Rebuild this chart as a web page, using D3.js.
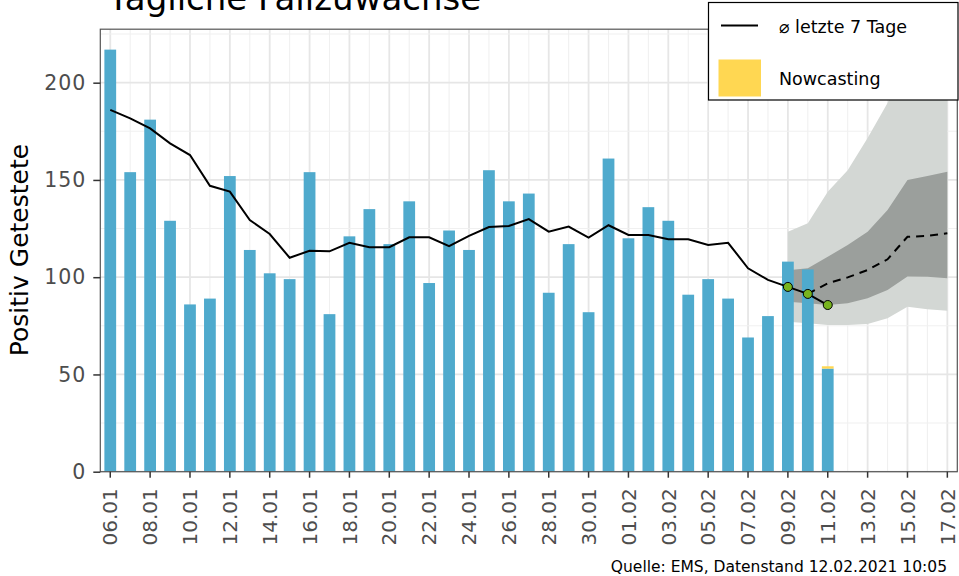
<!DOCTYPE html>
<html>
<head>
<meta charset="utf-8">
<script src="https://cdn.jsdelivr.net/npm/d3@7"></script>
<style>
  body { margin: 0; background: #fff; }
  text { font-family: "DejaVu Sans", sans-serif; }
</style>
</head>
<body>
<div id="chart"></div>
<script>
// days shown on the x axis (06.01 - 17.02)
var days = ["06.01","07.01","08.01","09.01","10.01","11.01","12.01","13.01","14.01","15.01",
  "16.01","17.01","18.01","19.01","20.01","21.01","22.01","23.01","24.01","25.01",
  "26.01","27.01","28.01","29.01","30.01","31.01","01.02","02.02","03.02","04.02",
  "05.02","06.02","07.02","08.02","09.02","10.02","11.02","12.02","13.02","14.02",
  "15.02","16.02","17.02"];
var tickLabels = ["06.01","08.01","10.01","12.01","14.01","16.01","18.01","20.01","22.01","24.01",
  "26.01","28.01","30.01","01.02","03.02","05.02","07.02","09.02","11.02","13.02","15.02","17.02"];
var yTicks = [0, 50, 100, 150, 200];

// daily new positive cases (06.01 - 11.02)
var cases = [217,154,181,129,86,89,152,114,102,99,154,81,121,135,117,139,97,124,114,155,
  139,143,92,117,82,161,120,136,129,91,99,89,69,80,108,104,53];
// nowcasting add-on
var nowcastDays = ["11.02"];
var nowcastValues = [1.2];

// 7 day average (06.01 - 11.02)
var avg7 = [186,181.7,176.5,168.8,162.8,147,144,129.4,122.2,110,113.6,113.3,117.7,115.4,115.4,
  120.5,120.5,116,121.2,125.8,126.3,129.9,123.4,126,120.3,126.7,121.7,121.7,119.5,119.5,
  116.6,117.7,104.6,98.6,95,91.4,85.7];
var markedDays = ["09.02","10.02","11.02"];

// forecast (09.02 - 17.02)
var forecastDays = ["09.02","10.02","11.02","12.02","13.02","14.02","15.02","16.02","17.02"];
var outerLow  = [77.1,76.3,75.4,75.4,75.9,78.9,84.8,83.5,82.8];
var outerHigh = [123.4,127.7,143.9,155,171.5,189.5,215,235,250];
var innerLow  = [87.4,86.6,85.7,86.6,89.2,93.4,100.3,100.2,99.4];
var innerHigh = [103.6,104.6,110.5,116.6,123.4,134.6,150,152,154.2];
var meanDays = ["10.02","11.02","12.02","13.02","14.02","15.02","16.02","17.02"];
var meanValues = [91.4,96.9,99.9,103.7,109.2,120.8,121.2,122.6];

var svgWidth = 959, svgHeight = 576;
var panel = { left: 100.3, right: 957.3, top: 29.2, bottom: 471.7 };

var svg = d3.select("#chart").append("svg")
  .attr("width", svgWidth)
  .attr("height", svgHeight);

var x = d3.scaleBand()
  .domain(days)
  .range([panel.left, panel.right])
  .paddingInner(0.41)
  .paddingOuter(0.205);
var xc = d => x(d) + x.bandwidth() / 2;

var y = d3.scaleLinear()
  .domain([0, 227.5])
  .range([panel.bottom, panel.top]);

svg.append("defs").append("clipPath").attr("id", "clip")
  .append("rect")
  .attr("x", panel.left).attr("y", panel.top)
  .attr("width", panel.right - panel.left)
  .attr("height", panel.bottom - panel.top);

// grid
var grid = svg.append("g");
grid.selectAll(".vgrid")
  .data(days)
  .enter().append("line")
  .attr("x1", d => xc(d)).attr("x2", d => xc(d))
  .attr("y1", panel.top).attr("y2", panel.bottom)
  .attr("stroke", d => tickLabels.indexOf(d) >= 0 ? "#e6e6e6" : "#f0f0f0")
  .attr("stroke-width", d => tickLabels.indexOf(d) >= 0 ? 1.8 : 1.1);
grid.selectAll(".hgrid")
  .data(d3.range(0, 228, 25))
  .enter().append("line")
  .attr("x1", panel.left).attr("x2", panel.right)
  .attr("y1", d => y(d)).attr("y2", d => y(d))
  .attr("stroke", d => d % 50 === 0 ? "#e6e6e6" : "#f0f0f0")
  .attr("stroke-width", d => d % 50 === 0 ? 1.8 : 1.1);

// forecast bands
var plot = svg.append("g").attr("clip-path", "url(#clip)");
var outerArea = d3.area()
  .x((d, i) => xc(forecastDays[i]))
  .y0((d, i) => y(outerLow[i]))
  .y1((d, i) => y(outerHigh[i]));
var innerArea = d3.area()
  .x((d, i) => xc(forecastDays[i]))
  .y0((d, i) => y(innerLow[i]))
  .y1((d, i) => y(innerHigh[i]));
plot.append("path").datum(forecastDays).attr("d", outerArea).attr("fill", "#d3d7d4");
plot.append("path").datum(forecastDays).attr("d", innerArea).attr("fill", "#9b9f9c");

// bars
plot.selectAll(".bar")
  .data(cases)
  .enter().append("rect")
  .attr("x", (d, i) => x(days[i]))
  .attr("width", x.bandwidth())
  .attr("y", d => y(d))
  .attr("height", d => y(0) - y(d))
  .attr("fill", "#4faacd");

plot.selectAll(".now")
  .data(nowcastValues)
  .enter().append("rect")
  .attr("x", (d, i) => x(nowcastDays[i]))
  .attr("width", x.bandwidth())
  .attr("y", (d, i) => y(cases[days.indexOf(nowcastDays[i])] + d))
  .attr("height", d => y(0) - y(d))
  .attr("fill", "#ffd752");

// lines
var avgLine = d3.line()
  .x((d, i) => xc(days[i]))
  .y(d => y(d));
plot.append("path").datum(avg7)
  .attr("d", avgLine)
  .attr("fill", "none")
  .attr("stroke", "#000")
  .attr("stroke-width", 2);

var meanLine = d3.line()
  .x((d, i) => xc(meanDays[i]))
  .y(d => y(d));
plot.append("path").datum(meanValues)
  .attr("d", meanLine)
  .attr("fill", "none")
  .attr("stroke", "#000")
  .attr("stroke-width", 2)
  .attr("stroke-dasharray", "8,6");

plot.selectAll(".pt")
  .data(markedDays)
  .enter().append("circle")
  .attr("cx", d => xc(d))
  .attr("cy", d => y(avg7[days.indexOf(d)]))
  .attr("r", 4.5)
  .attr("fill", "#78b41e")
  .attr("stroke", "#000")
  .attr("stroke-width", 1);

// panel border
svg.append("rect")
  .attr("x", panel.left).attr("y", panel.top)
  .attr("width", panel.right - panel.left)
  .attr("height", panel.bottom - panel.top)
  .attr("fill", "none")
  .attr("stroke", "#555")
  .attr("stroke-width", 1.2);

// axes
var xAxis = svg.append("g")
  .attr("transform", `translate(0, ${panel.bottom})`)
  .call(d3.axisBottom(x).tickValues(tickLabels).tickSize(6).tickSizeOuter(0));
xAxis.select(".domain").remove();
xAxis.selectAll("line").attr("stroke", "#333").attr("stroke-width", 1.5);
xAxis.selectAll("text")
  .attr("transform", "rotate(-90)")
  .attr("x", -16.5)
  .attr("y", 0)
  .attr("dy", "0.36em")
  .attr("text-anchor", "end")
  .attr("fill", "#4d4d4d")
  .style("font-size", "20px")
  .style("font-family", "DejaVu Sans");

var yAxis = svg.append("g")
  .attr("transform", `translate(${panel.left}, 0)`)
  .call(d3.axisLeft(y).tickValues(yTicks).tickSize(7).tickPadding(7).tickSizeOuter(0));
yAxis.select(".domain").remove();
yAxis.selectAll("line").attr("stroke", "#333").attr("stroke-width", 1.5);
yAxis.selectAll("text")
  .attr("fill", "#4d4d4d")
  .style("font-size", "20.5px")
  .style("letter-spacing", "1px")
  .style("font-family", "DejaVu Sans");

svg.append("text")
  .attr("transform", "translate(28, 250) rotate(-90)")
  .attr("text-anchor", "middle")
  .style("font-size", "25px")
  .text("Positiv Getestete");

// title (cut at the top)
svg.append("text")
  .attr("x", 108).attr("y", 9.5)
  .style("font-size", "34px")
  .text("Tägliche Fallzuwächse");

// source
svg.append("text")
  .attr("x", 947).attr("y", 572)
  .attr("text-anchor", "end")
  .style("font-size", "15.5px")
  .text("Quelle: EMS, Datenstand 12.02.2021 10:05");

// legend
var legend = svg.append("g");
legend.append("rect")
  .attr("x", 708.5).attr("y", 2.5)
  .attr("width", 249.5).attr("height", 97.5)
  .attr("fill", "#fff")
  .attr("stroke", "#000")
  .attr("stroke-width", 1.2);
legend.append("line")
  .attr("x1", 721).attr("x2", 758)
  .attr("y1", 25.5).attr("y2", 25.5)
  .attr("stroke", "#000")
  .attr("stroke-width", 2);
legend.append("rect")
  .attr("x", 718.5).attr("y", 59.5)
  .attr("width", 42.5).attr("height", 37)
  .attr("fill", "#ffd752");
legend.append("text")
  .attr("x", 779).attr("y", 33)
  .style("font-size", "17.5px")
  .text("⌀ letzte 7 Tage");
legend.append("text")
  .attr("x", 779).attr("y", 85)
  .style("font-size", "17.5px")
  .text("Nowcasting");
</script>
</body>
</html>
